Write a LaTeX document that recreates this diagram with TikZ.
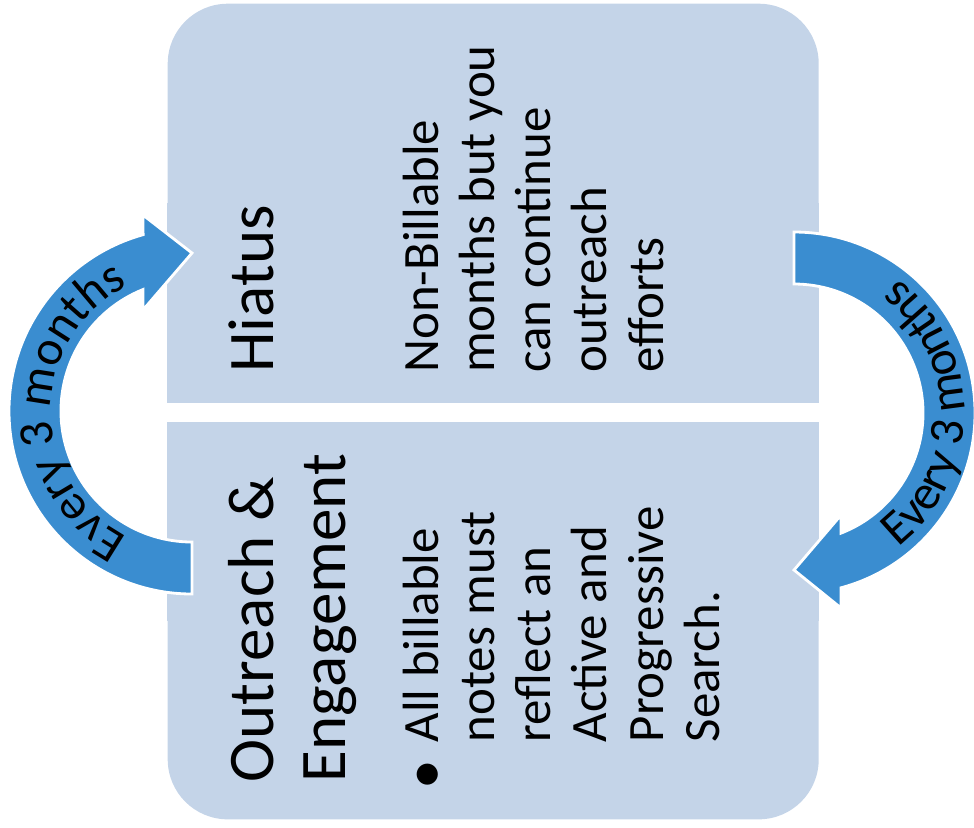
\documentclass[tikz,border=0pt]{standalone}
\usepackage{fontspec}
\setmainfont{Carlito}
\usetikzlibrary{positioning}
\usetikzlibrary{calc,decorations.text}
\definecolor{panelblue}{RGB}{196,212,232}
\definecolor{cycleblue}{RGB}{58,141,208}
\tikzset{panel/.style={fill=panelblue, draw=none, rounded corners=6mm,
    minimum width=6.51cm, inner sep=0pt},
  headtext/.style={rotate=90, anchor=north west, inner sep=0pt, align=left,
    font=\fontsize{18.5}{20.3}\selectfont},
  bodytext/.style={rotate=90, anchor=north west, inner sep=0pt, align=left,
    font=\fontsize{14.5}{16}\selectfont},
  cyclearrow/.style={fill=cycleblue, draw=white, line width=0.8pt},
  arclabel/.style={decorate, decoration={text along path, text align=center,
    text={|\fontsize{14}{16}\selectfont|Every 3 months}}}}

\begin{document}
\begin{tikzpicture}
  \useasboundingbox (0,0) rectangle (9.74,8.27);
  % panels
  \node[panel, minimum height=3.99cm, anchor=north west] (hiatusBox) at (1.67,8.24) {};
  \fill[panelblue] (hiatusBox.south west) rectangle (hiatusBox.east);
  \node[panel, minimum height=3.97cm, anchor=south west] (outreachBox) at (1.67,0.07) {};
  \fill[panelblue] (outreachBox.west) rectangle (outreachBox.north east);

  % texts
  \node[headtext] (hiatusTitle) at ($(hiatusBox.south west)+(0.61,0.30)$) {Hiatus};
  \node[bodytext] (hiatusText) at ($(hiatusBox.south west)+(2.35,0.30)$)
    {Non-Billable\\months but you\\can continue\\outreach\\efforts};
  \node[headtext] (outreachTitle) at ($(outreachBox.south west)+(0.61,0.37)$)
    {Outreach \&\\Engagement};
  \node[bodytext] (outreachText) at ($(outreachBox.south west)+(2.35,0.77)$)
    {All billable\\notes must\\reflect an\\Active and\\Progressive\\Search.};
  \node[rotate=90, inner sep=0pt, font=\fontsize{17}{16}\selectfont] (bulletMark)
    at ($(outreachBox.south west)+(2.64,0.45)$) {\textbullet};

  % curved arrows
  \coordinate (leftTurn) at (1.92,4.16);
  \coordinate (rightTurn) at (7.94,4.14);
  \path[cyclearrow] ($(leftTurn)+(270:1.83)$) arc[start angle=270, end angle=105.5, radius=1.83]
    -- ($(leftTurn)+(-0.49,1.96)$) -- ($(leftTurn)+(0,1.58)$) -- ($(leftTurn)+(-0.49,1.01)$)
    -- ($(leftTurn)+(112:1.31)$) arc[start angle=112, end angle=270, radius=1.31] -- cycle;
  \path[cyclearrow] ($(rightTurn)+(90:1.81)$) arc[start angle=90, end angle=-74.95, radius=1.81]
    -- ($(rightTurn)+(0.47,-1.95)$) -- ($(rightTurn)+(0,-1.57)$) -- ($(rightTurn)+(0.47,-1.02)$)
    -- ($(rightTurn)+(-68.6:1.29)$) arc[start angle=-68.6, end angle=90, radius=1.29] -- cycle;
  \path[arclabel] ($(leftTurn)+(255:1.41)$) arc[start angle=255, end angle=105, radius=1.41];
  \path[arclabel] ($(rightTurn)+(-70:1.70)$) arc[start angle=-70, end angle=70, radius=1.70];
\end{tikzpicture}
\end{document}
